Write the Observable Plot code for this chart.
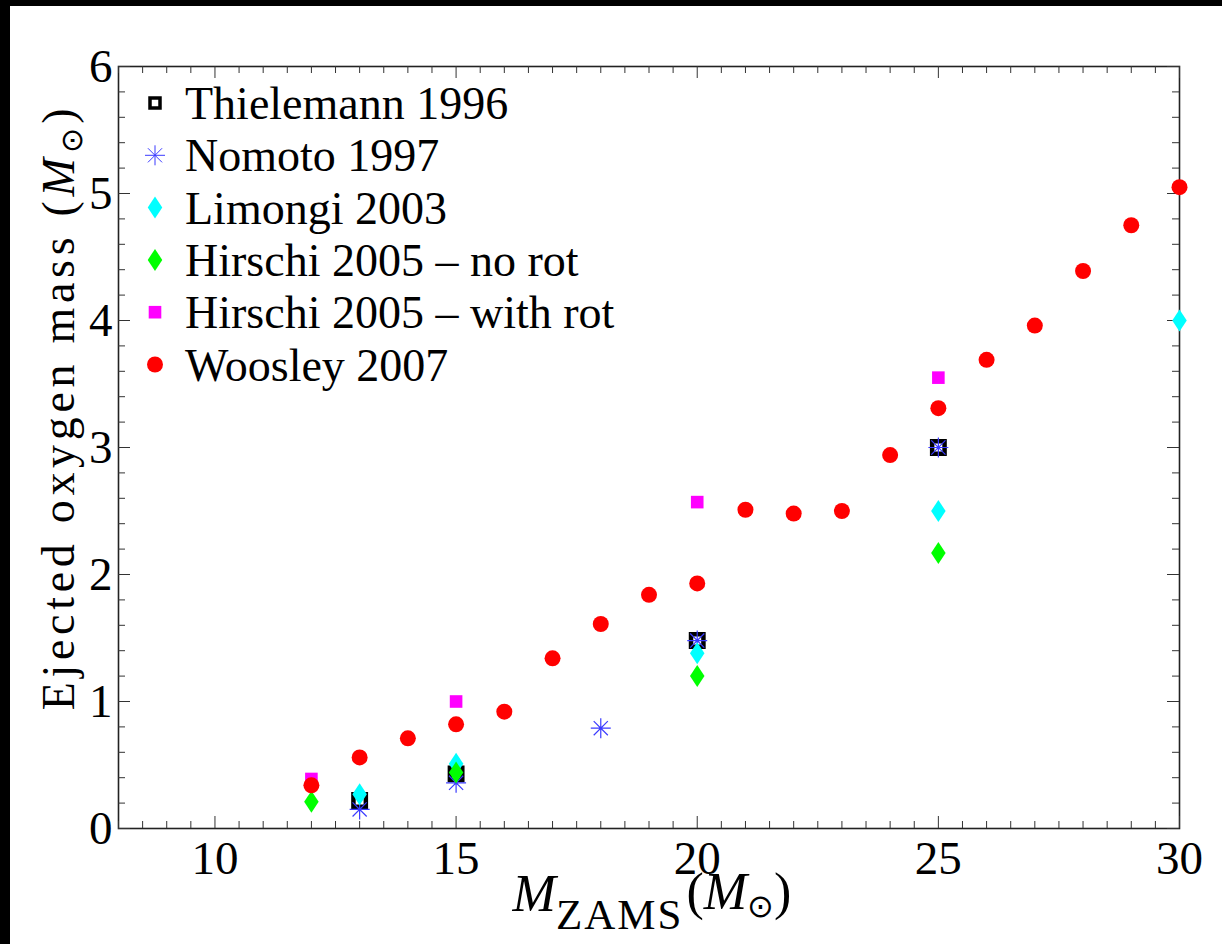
<!DOCTYPE html>
<html><head><meta charset="utf-8">
<script src="https://cdn.jsdelivr.net/npm/d3@7"></script>
<script src="https://cdn.jsdelivr.net/npm/@observablehq/plot@0.6"></script>
<style>
html,body{margin:0;padding:0;background:#000;width:1222px;height:944px;overflow:hidden;}
#wrap{position:absolute;left:10px;top:6px;width:1212px;height:938px;background:#fff;}
</style></head><body><div id="wrap"></div>
<script>
// ---- data ----
const seriesNames = ["Thielemann 1996","Nomoto 1997","Limongi 2003","Hirschi 2005 \u2013 no rot","Hirschi 2005 \u2013 with rot","Woosley 2007"];
const thielemannX = [13,15,20,25];
const thielemannY = [0.22,0.43,1.48,3.0];
const nomotoX = [13,15,18,20,25];
const nomotoY = [0.15,0.36,0.79,1.48,3.0];
const limongiX = [13,15,20,25,30];
const limongiY = [0.27,0.51,1.38,2.5,4.0];
const hirschiNoRotX = [12,15,20,25];
const hirschiNoRotY = [0.21,0.44,1.2,2.17];
const hirschiRotX = [12,15,20,25];
const hirschiRotY = [0.39,1.0,2.57,3.55];
const woosleyX = [12,13,14,15,16,17,18,19,20,21,22,23,24,25,26,27,28,29,30];
const woosleyY = [0.34,0.56,0.71,0.82,0.92,1.34,1.61,1.84,1.93,2.51,2.48,2.50,2.94,3.31,3.69,3.96,4.39,4.75,5.05];
const xMajorTicks = [10,15,20,25,30];
const yMajorTicks = [0,1,2,3,4,5,6];

// ---- symbols ----
const rOf = s => Math.sqrt(s / Math.PI);
const symSquare = {draw(c, s){const r = rOf(s); c.rect(-r,-r,2*r,2*r);}};
const symDiamond = {draw(c, s){const r = rOf(s); const w = r*0.66; c.moveTo(0,-r); c.lineTo(w,0); c.lineTo(0,r); c.lineTo(-w,0); c.closePath();}};
const symAsterisk = {draw(c, s){const r = rOf(s); const d = r*Math.SQRT1_2;
  c.moveTo(-r,0); c.lineTo(r,0); c.moveTo(0,-r); c.lineTo(0,r);
  c.moveTo(-d,-d); c.lineTo(d,d); c.moveTo(-d,d); c.lineTo(d,-d);}};
const symCircle = {draw(c, s){const r = rOf(s); c.moveTo(r,0); c.arc(0,0,r,0,2*Math.PI);}};

const styles = [
  {symbol: symSquare, fill: "none", stroke: "#000", strokeWidth: 4.5, r: 6.2},
  {symbol: symAsterisk, fill: "none", stroke: "#3b3bff", strokeWidth: 1.2, r: 10},
  {symbol: symDiamond, fill: "#00ffff", stroke: "none", strokeWidth: 0, r: 11},
  {symbol: symDiamond, fill: "#00ff00", stroke: "none", strokeWidth: 0, r: 11},
  {symbol: symSquare, fill: "#ff00ff", stroke: "none", strokeWidth: 0, r: 6.3},
  {symbol: symCircle, fill: "#ff0000", stroke: "none", strokeWidth: 0, r: 8}
];
const legendSizes = [{r: 5, sw: 3.5}, {r: 10, sw: 1}, {r: 11, sw: 0}, {r: 11, sw: 0}, {r: 6.3, sw: 0}, {r: 8, sw: 0}];
const xs = [thielemannX, nomotoX, limongiX, hirschiNoRotX, hirschiRotX, woosleyX];
const ys = [thielemannY, nomotoY, limongiY, hirschiNoRotY, hirschiRotY, woosleyY];
const tables = xs.map((xa, i) => xa.map((x, j) => ({x, y: ys[i][j], series: seriesNames[i]})));

const W = 1212, H = 938, mL = 108, mR = 43, mT = 60, mB = 116;
const innerW = W - mL - mR, innerH = H - mT - mB;
const xMinor = d3.range(8, 30.001, 0.5).filter(v => !xMajorTicks.includes(v));
const yMinor = d3.range(0, 6.001, 0.2).map(v => +v.toFixed(1)).filter(v => !yMajorTicks.includes(v));
const tickCol = "#333";
const majLen = 12, minLen = 7;
const font = "'Liberation Serif', 'Times New Roman', serif";

const marks = [
  Plot.frame({stroke: "#222", strokeWidth: 1.6}),
  // inward ticks on all four sides
  Plot.tickX(xMajorTicks, {x: d => d, insetTop: innerH - majLen, stroke: tickCol}),
  Plot.tickX(xMinor, {x: d => d, insetTop: innerH - minLen, stroke: tickCol}),
  Plot.tickX(xMajorTicks, {x: d => d, insetBottom: innerH - majLen, stroke: tickCol}),
  Plot.tickX(xMinor, {x: d => d, insetBottom: innerH - minLen, stroke: tickCol}),
  Plot.tickY(yMajorTicks, {y: d => d, insetRight: innerW - majLen, stroke: tickCol}),
  Plot.tickY(yMinor, {y: d => d, insetRight: innerW - minLen, stroke: tickCol}),
  Plot.tickY(yMajorTicks, {y: d => d, insetLeft: innerW - majLen, stroke: tickCol}),
  Plot.tickY(yMinor, {y: d => d, insetLeft: innerW - minLen, stroke: tickCol}),
  Plot.axisX({ticks: xMajorTicks, tickFormat: d3.format("d"), tickSize: 0, tickPadding: 12, label: null, fill: "#000", fontSize: 47}),
  Plot.axisY({ticks: yMajorTicks, tickFormat: d3.format("d"), tickSize: 0, tickPadding: 6, label: null, fill: "#000", fontSize: 47}),
  ...tables.map((t, i) => Plot.dot(t, {x: "x", y: "y", symbol: styles[i].symbol, r: styles[i].r,
      fill: styles[i].fill, stroke: styles[i].stroke, strokeWidth: styles[i].strokeWidth}))
];

const chart = Plot.plot({
  width: W, height: H,
  marginLeft: mL, marginRight: mR, marginTop: mT, marginBottom: mB,
  x: {domain: [8, 30]},
  y: {domain: [0, 6]},
  style: {fontFamily: font, fontSize: "43px", background: "#fff", color: "#000", overflow: "visible"},
  marks
});
document.getElementById("wrap").appendChild(chart);

// ---- axis labels & legend ----
const svg = d3.select(chart);
const yl = svg.append("text").attr("transform", "translate(64,401) rotate(-90)")
  .attr("text-anchor", "middle").attr("font-family", font).attr("font-size", 46)
  .attr("letter-spacing", 4.7).attr("fill", "#000");
yl.append("tspan").text("Ejected oxygen mass (");
yl.append("tspan").attr("font-style", "italic").text("M");
yl.append("tspan").attr("font-size", 30).attr("dy", 8).text("\u2299");
yl.append("tspan").attr("dy", -8).text(")");

const xl = svg.append("text").attr("x", 642).attr("y", 905)
  .attr("text-anchor", "middle").attr("font-family", font).attr("font-size", 52).attr("fill", "#000");
xl.append("tspan").attr("font-style", "italic").text("M");
xl.append("tspan").attr("font-size", 43).attr("letter-spacing", 2).attr("dy", 18).text("ZAMS");
xl.append("tspan").attr("dy", -20).attr("dx", 3).text("(");
xl.append("tspan").attr("font-style", "italic").text("M");
xl.append("tspan").attr("font-size", 32).attr("dy", 8).text("\u2299");
xl.append("tspan").attr("dy", -8).text(")");

const lg = svg.append("g").attr("font-family", font).attr("font-size", 46).attr("text-anchor", "start");
seriesNames.forEach((name, i) => {
  const st = styles[i], ls = legendSizes[i];
  const g = lg.append("g").attr("transform", `translate(145,${97 + i * 52.3})`);
  g.append("path").attr("d", d3.symbol(st.symbol, Math.PI * ls.r * ls.r)())
    .attr("fill", st.fill).attr("stroke", st.stroke).attr("stroke-width", ls.sw);
  g.append("text").attr("x", 30).attr("dy", "0.35em").attr("text-anchor", "start").attr("fill", "#000").text(name);
});
</script>
</body></html>
